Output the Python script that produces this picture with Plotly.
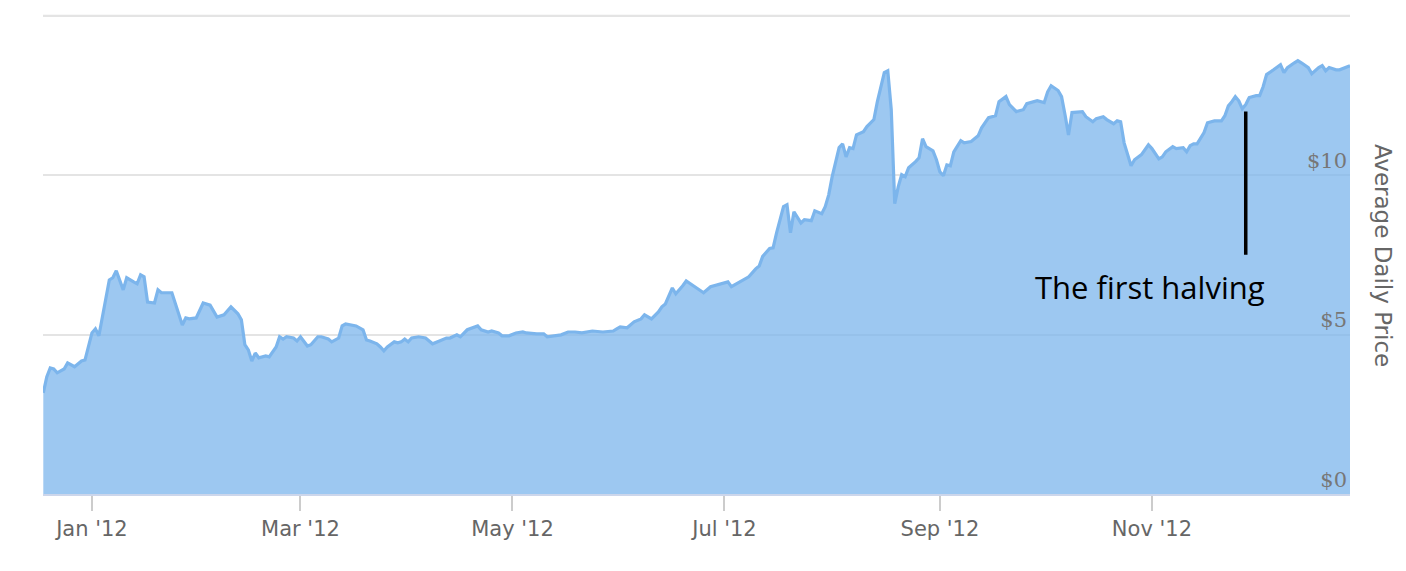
import plotly.graph_objects as go

# ---- data ----
dates = [
    # Dec 2011
    "2011-12-18", "2011-12-19", "2011-12-20", "2011-12-21", "2011-12-22", "2011-12-24", "2011-12-25", "2011-12-27", "2011-12-29", "2011-12-30",
    # Jan 2012
    "2012-01-01", "2012-01-02", "2012-01-03", "2012-01-04", "2012-01-06", "2012-01-07", "2012-01-08", "2012-01-10", "2012-01-11", "2012-01-13", "2012-01-14",
    "2012-01-15", "2012-01-16", "2012-01-17", "2012-01-19", "2012-01-20", "2012-01-21", "2012-01-24", "2012-01-27", "2012-01-28", "2012-01-29", "2012-01-31",
    # Feb
    "2012-02-02", "2012-02-04", "2012-02-06", "2012-02-08", "2012-02-10", "2012-02-12", "2012-02-13", "2012-02-14", "2012-02-15", "2012-02-16",
    "2012-02-17", "2012-02-18", "2012-02-20", "2012-02-21", "2012-02-23", "2012-02-24", "2012-02-25", "2012-02-26", "2012-02-28", "2012-02-29",
    # Mar
    "2012-03-01", "2012-03-03", "2012-03-04", "2012-03-06", "2012-03-07", "2012-03-09", "2012-03-10", "2012-03-12", "2012-03-13", "2012-03-14", "2012-03-16", "2012-03-17",
    "2012-03-19", "2012-03-20", "2012-03-21", "2012-03-23", "2012-03-24", "2012-03-25", "2012-03-26", "2012-03-27", "2012-03-28", "2012-03-29", "2012-03-30", "2012-03-31",
    # Apr
    "2012-04-01", "2012-04-02", "2012-04-04", "2012-04-06", "2012-04-08", "2012-04-10", "2012-04-12", "2012-04-13", "2012-04-15",
    "2012-04-16", "2012-04-18", "2012-04-21", "2012-04-22", "2012-04-24", "2012-04-25", "2012-04-27", "2012-04-28", "2012-04-30",
    # May
    "2012-05-02", "2012-05-04", "2012-05-05", "2012-05-08", "2012-05-10", "2012-05-11", "2012-05-13", "2012-05-15",
    "2012-05-17", "2012-05-19", "2012-05-21", "2012-05-24", "2012-05-27", "2012-05-30", "2012-05-31",
    # Jun
    "2012-06-01", "2012-06-03", "2012-06-05", "2012-06-07", "2012-06-08", "2012-06-10", "2012-06-12", "2012-06-13", "2012-06-14",
    "2012-06-16", "2012-06-17", "2012-06-19", "2012-06-20", "2012-06-23", "2012-06-25", "2012-06-27", "2012-06-29",
    # Jul
    "2012-07-01", "2012-07-02", "2012-07-03", "2012-07-05", "2012-07-06", "2012-07-08", "2012-07-10", "2012-07-11", "2012-07-12", "2012-07-14", "2012-07-15", "2012-07-16",
    "2012-07-18", "2012-07-19", "2012-07-20", "2012-07-21", "2012-07-23", "2012-07-24", "2012-07-26", "2012-07-27", "2012-07-29", "2012-07-30", "2012-07-31",
    # Aug
    "2012-08-01", "2012-08-03", "2012-08-04", "2012-08-05", "2012-08-06", "2012-08-07", "2012-08-08", "2012-08-10", "2012-08-11", "2012-08-13", "2012-08-14", "2012-08-16", "2012-08-17",
    "2012-08-18", "2012-08-19", "2012-08-20", "2012-08-21", "2012-08-22", "2012-08-23", "2012-08-25", "2012-08-26", "2012-08-27", "2012-08-28", "2012-08-30", "2012-08-31",
    # Sep
    "2012-09-01", "2012-09-02", "2012-09-03", "2012-09-04", "2012-09-05", "2012-09-07", "2012-09-08", "2012-09-10", "2012-09-12", "2012-09-13",
    "2012-09-15", "2012-09-17", "2012-09-18", "2012-09-20", "2012-09-21", "2012-09-23", "2012-09-25", "2012-09-26", "2012-09-29",
    # Oct
    "2012-10-01", "2012-10-02", "2012-10-03", "2012-10-05", "2012-10-06", "2012-10-07", "2012-10-08", "2012-10-09", "2012-10-11", "2012-10-12", "2012-10-13", "2012-10-15",
    "2012-10-16", "2012-10-18", "2012-10-19", "2012-10-21", "2012-10-22", "2012-10-23", "2012-10-24", "2012-10-26", "2012-10-27", "2012-10-29", "2012-10-31",
    # Nov
    "2012-11-01", "2012-11-03", "2012-11-04", "2012-11-05", "2012-11-07", "2012-11-08", "2012-11-10", "2012-11-11", "2012-11-12", "2012-11-13", "2012-11-14", "2012-11-16",
    "2012-11-17", "2012-11-19", "2012-11-21", "2012-11-22", "2012-11-23", "2012-11-24", "2012-11-25", "2012-11-26", "2012-11-27", "2012-11-28", "2012-11-29",
    # Dec
    "2012-12-01", "2012-12-02", "2012-12-03", "2012-12-04", "2012-12-06", "2012-12-07", "2012-12-08", "2012-12-09", "2012-12-10", "2012-12-12", "2012-12-13",
    "2012-12-14", "2012-12-16", "2012-12-17", "2012-12-19", "2012-12-20", "2012-12-21", "2012-12-22", "2012-12-24", "2012-12-25", "2012-12-26", "2012-12-28",
]

prices = [
    # Dec 2011
    3.17, 3.67, 3.95, 3.92, 3.80, 3.92, 4.11, 3.99, 4.17, 4.20,
    # Jan
    5.05, 5.18, 4.96, 5.55, 6.71, 6.78, 7.00, 6.40, 6.78, 6.65, 6.59,
    6.87, 6.81, 6.02, 5.99, 6.40, 6.31, 6.31, 5.30, 5.52, 5.49, 5.52,
    # Feb
    5.99, 5.92, 5.55, 5.62, 5.87, 5.65, 5.46, 4.68, 4.52, 4.17,
    4.42, 4.27, 4.33, 4.30, 4.61, 4.93, 4.86, 4.93, 4.89, 4.80,
    # Mar
    4.93, 4.64, 4.68, 4.93, 4.93, 4.86, 4.77, 4.89, 5.27, 5.33, 5.30, 5.27,
    5.15, 4.83, 4.80, 4.71, 4.61, 4.49, 4.61, 4.68, 4.77, 4.74, 4.77, 4.86,
    # Apr
    4.77, 4.89, 4.93, 4.89, 4.71, 4.80, 4.89, 4.89, 4.99,
    4.93, 5.15, 5.27, 5.15, 5.08, 5.11, 5.05, 4.96, 4.96,
    # May
    5.05, 5.08, 5.05, 5.02, 5.02, 4.93, 4.96, 4.99,
    5.08, 5.08, 5.05, 5.11, 5.08, 5.11, 5.18,
    # Jun
    5.24, 5.21, 5.40, 5.49, 5.62, 5.49, 5.71, 5.87, 5.96,
    6.46, 6.28, 6.53, 6.68, 6.46, 6.31, 6.50, 6.56,
    # Jul
    6.62, 6.65, 6.50, 6.62, 6.68, 6.81, 7.06, 7.15, 7.45, 7.70, 7.72, 8.19,
    9.01, 9.07, 8.19, 8.85, 8.50, 8.60, 8.57, 8.88, 8.79, 9.01, 9.38,
    # Aug
    9.95, 10.86, 10.98, 10.57, 10.86, 10.83, 11.26, 11.36, 11.52, 11.74, 12.30, 13.21, 13.27,
    12.05, 9.10, 9.63, 10.01, 9.95, 10.23, 10.42, 10.54, 11.14, 10.89, 10.76, 10.48,
    # Sep
    10.10, 9.98, 10.32, 10.29, 10.73, 11.08, 11.01, 11.05, 11.23, 11.48,
    11.80, 11.86, 12.30, 12.46, 12.21, 11.99, 12.05, 12.24, 12.33,
    # Oct
    12.27, 12.61, 12.80, 12.65, 12.46, 11.89, 11.26, 11.96, 11.99, 11.99, 11.83, 11.67,
    11.77, 11.83, 11.74, 11.61, 11.70, 11.67, 11.01, 10.29, 10.48, 10.64, 10.95,
    # Nov
    10.83, 10.51, 10.57, 10.73, 10.89, 10.83, 10.86, 10.73, 10.92, 10.98, 10.98, 11.33,
    11.64, 11.70, 11.70, 11.86, 12.17, 12.30, 12.46, 12.33, 12.08, 12.21, 12.43,
    # Dec
    12.49, 12.49, 12.77, 13.15, 13.30, 13.37, 13.46, 13.21, 13.37, 13.52, 13.59,
    13.52, 13.37, 13.18, 13.37, 13.43, 13.27, 13.37, 13.30, 13.30, 13.34, 13.43,
]

x_tick_dates = ["2012-01-01", "2012-03-01", "2012-05-01", "2012-07-01", "2012-09-01", "2012-11-01"]
x_tick_labels = ["Jan '12", "Mar '12", "May '12", "Jul '12", "Sep '12", "Nov '12"]
y_tick_values = [0, 5, 10, 15]
y_tick_labels = ["$0", "$5", "$10", ""]

halving_date = "2012-11-28"
halving_label = "The first halving"
y_title = "Average Daily Price"

assert len(dates) == len(prices)

fig = go.Figure()
fig.add_trace(go.Scatter(
    x=dates, y=prices, mode="lines",
    line=dict(color="#7cb5ec", width=3.2),
    fill="tozeroy", fillcolor="rgba(124,181,236,0.75)",
    hoverinfo="x+y", showlegend=False,
))

# page body has an 8px default margin, so the figure is 8px smaller and margins compensate
fig.update_layout(
    width=1398, height=563,
    margin=dict(l=35, r=56, t=6, b=77),
    paper_bgcolor="white", plot_bgcolor="white",
    font=dict(family="DejaVu Sans", color="#666666"),
    xaxis=dict(
        type="date",
        range=["2011-12-17 22:00", "2012-12-28"],
        tickvals=x_tick_dates, ticktext=x_tick_labels,
        ticks="outside", ticklen=15, tickwidth=1.5, tickcolor="#cccccc",
        showline=True, linecolor="#ccd6eb", linewidth=2,
        showgrid=False, zeroline=False,
        tickfont=dict(family="DejaVu Sans", size=21, color="#666666"),
    ),
    yaxis=dict(
        range=[0, 15.05], side="right",
        tickvals=y_tick_values, ticktext=y_tick_labels,
        ticklabelposition="inside top",
        tickfont=dict(family="DejaVu Serif", size=21, color="#777777"),
        showgrid=True, gridcolor="#e4e4e4", gridwidth=1.5,
        zeroline=False, showline=False, ticks="",
    ),
    shapes=[
        dict(type="line", xref="paper", yref="y", x0=0, x1=1, y0=15, y1=15,
             layer="below", line=dict(color="#e4e4e4", width=1.5)),
        dict(type="line", xref="x", yref="y",
             x0=halving_date, x1=halving_date, y0=7.5, y1=11.99,
             line=dict(color="black", width=3.5)),
    ],
    annotations=[
        dict(text=halving_label, xref="x", yref="y",
             x="2012-10-31 14:00", y=6.5, showarrow=False,
             xanchor="center", yanchor="middle",
             font=dict(family="Open Sans", size=31, color="black")),
        dict(text=y_title, xref="paper", yref="paper",
             x=1.0253, y=0.498, showarrow=False, textangle=90,
             xanchor="center", yanchor="middle",
             font=dict(family="DejaVu Sans", size=23, color="#666666")),
    ],
)

fig.write_html("out.html")
